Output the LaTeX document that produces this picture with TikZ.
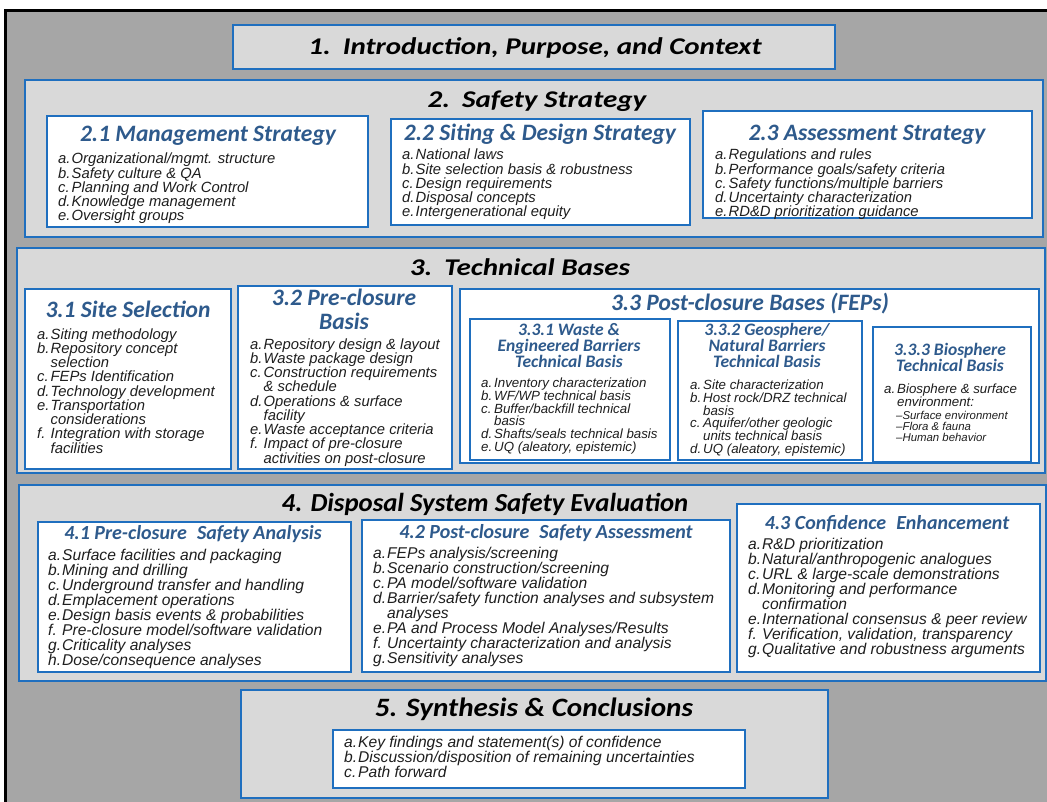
\documentclass[tikz,border=0pt]{standalone}
\usepackage{fontspec}
\setmainfont{Liberation Sans}
\newfontfamily\calib{Carlito}
\newfontfamily\calibw[FakeStretch=1.21]{Carlito}
\newfontfamily\calibf[FakeStretch=1.03]{Carlito}
\newfontfamily\calibm[FakeStretch=1.1]{Carlito}
\definecolor{outergray}{HTML}{A6A6A6}
\definecolor{secgray}{HTML}{D9D9D9}
\definecolor{bord}{HTML}{1F6FBF}
\definecolor{subblue}{HTML}{2E5A8C}
\definecolor{txt}{HTML}{1E1E1E}
\newlength\lw
\newcommand\itm[2]{\makebox[\lw][l]{#1}#2}
\newcommand\cnt[1]{\hspace*{\lw}#1}
\tikzset{
 secbox/.style={draw=bord, line width=2.6pt, fill=secgray},
 inbox/.style={draw=bord, line width=2.2pt, fill=white},
 sectitle/.style={inner sep=0pt, anchor=base, text=black, font=\calibw\bfseries\itshape\fontsize{24}{26}\selectfont},
 subtitle/.style={inner sep=0pt, anchor=base, align=center, text=subblue, font=\calib\bfseries\itshape\fontsize{23.5}{24}\selectfont},
 subsmall/.style={inner sep=0pt, anchor=base, align=center, text=subblue, font=\calib\bfseries\itshape\fontsize{17.5}{16}\selectfont},
 subfour/.style={inner sep=0pt, anchor=base, align=center, text=subblue, font=\calib\bfseries\itshape\fontsize{20}{22}\selectfont},
 listA/.style={inner sep=0pt, anchor=base west, align=left, text=txt, font=\itshape\fontsize{14.8}{14.25}\selectfont\setlength{\lw}{13.5pt}},
 listB/.style={inner sep=0pt, anchor=base west, align=left, text=txt, font=\itshape\fontsize{13.3}{12.8}\selectfont\setlength{\lw}{13pt}},
 listC/.style={inner sep=0pt, anchor=base west, align=left, text=txt, font=\itshape\fontsize{11.4}{11}\selectfont},
 listD/.style={inner sep=0pt, anchor=base west, align=left, text=txt, font=\itshape\fontsize{15.6}{15}\selectfont\setlength{\lw}{14pt}},
}
\begin{document}
\begin{tikzpicture}[x=1pt,y=-1pt]
\useasboundingbox (0,0) rectangle (1047,802);
% background
\fill[white] (0,0) rectangle (1047,802);
\fill[outergray] (5,10) rectangle (1047,802);
\draw[black, line width=2.8pt] (5.5,802) -- (5.5,10.5) -- (1047,10.5);

% ---- Section 1
\draw[secbox] (233,25) rectangle (835,69);
\node[sectitle] (t1) at (535,55) {1.\enspace Introduction, Purpose, and Context};

% ---- Section 2 (multi-line nodes are placed by the baseline of their last line)
\draw[secbox] (25,80) rectangle (1043,237);
\node[sectitle] (t2) at (537,108) {2.\enspace Safety Strategy};
\draw[inbox] (47,116) rectangle (368,227);
\draw[inbox] (391,119) rectangle (690,225);
\draw[inbox] (703,111) rectangle (1032,218);
\node[subtitle] (t21) at (208,141.5) {2.1 Management Strategy};
\node[subtitle] (t22) at (540,140.5) {2.2 Siting \& Design Strategy};
\node[subtitle] (t23) at (867,140.5) {2.3 Assessment Strategy};
\node[listA] (l21) at (58,221) {\itm{a.}{Organizational/mgmt. structure}\\\itm{b.}{Safety culture \& QA}\\\itm{c.}{Planning and Work Control}\\\itm{d.}{Knowledge management}\\\itm{e.}{Oversight groups}};
\node[listA] (l22) at (402,217) {\itm{a.}{National laws}\\\itm{b.}{Site selection basis \& robustness}\\\itm{c.}{Design requirements}\\\itm{d.}{Disposal concepts}\\\itm{e.}{Intergenerational equity}};
\node[listA] (l23) at (715,217) {\itm{a.}{Regulations and rules}\\\itm{b.}{Performance goals/safety criteria}\\\itm{c.}{Safety functions/multiple barriers}\\\itm{d.}{Uncertainty characterization}\\\itm{e.}{RD\&D prioritization guidance}};

% ---- Section 3
\draw[secbox] (17,248) rectangle (1045,473);
\node[sectitle] (t3) at (520,276) {3.\enspace Technical Bases};
\draw[inbox] (25,289) rectangle (231,469);
\draw[inbox] (238,286) rectangle (452,469);
\draw[inbox] (460,289) rectangle (1039,463);
\node[subtitle] (t31) at (128,317.5) {3.1 Site Selection};
\node[subtitle] (t32) at (344,329.5) {3.2 Pre-closure\\Basis};
\node[subtitle] (t33) at (750,310.5) {3.3 Post-closure Bases (FEPs)};
\node[listA] (l31) at (37,453) {\itm{a.}{Siting methodology}\\\itm{b.}{Repository concept}\\\cnt{selection}\\\itm{c.}{FEPs Identification}\\\itm{d.}{Technology development}\\\itm{e.}{Transportation}\\\cnt{considerations}\\\itm{f.}{Integration with storage}\\\cnt{facilities}};
\node[listA] (l32) at (250,463) {\itm{a.}{Repository design \& layout}\\\itm{b.}{Waste package design}\\\itm{c.}{Construction requirements}\\\cnt{\& schedule}\\\itm{d.}{Operations \& surface}\\\cnt{facility}\\\itm{e.}{Waste acceptance criteria}\\\itm{f.}{Impact of pre-closure}\\\cnt{activities on post-closure}};
\draw[inbox] (470,319) rectangle (670,460);
\draw[inbox] (678,321) rectangle (862,460);
\draw[inbox] (873,327) rectangle (1031,462);
\node[subsmall] (t331) at (569,367.5) {3.3.1 Waste \&\\Engineered Barriers\\Technical Basis};
\node[subsmall] (t332) at (767,367.5) {3.3.2 Geosphere/\\Natural Barriers\\Technical Basis};
\node[subsmall] (t333) at (950,371.5) {3.3.3 Biosphere\\Technical Basis};
\node[listB] (l331) at (481,451.5) {\itm{a.}{Inventory characterization}\\\itm{b.}{WF/WP technical basis}\\\itm{c.}{Buffer/backfill technical}\\\cnt{basis}\\\itm{d.}{Shafts/seals technical basis}\\\itm{e.}{UQ (aleatory, epistemic)}};
\node[listB] (l332) at (690,453.5) {\itm{a.}{Site characterization}\\\itm{b.}{Host rock/DRZ technical}\\\cnt{basis}\\\itm{c.}{Aquifer/other geologic}\\\cnt{units technical basis}\\\itm{d.}{UQ (aleatory, epistemic)}};
\node[listB] (l333) at (884,406.3) {\itm{a.}{Biosphere \& surface}\\\cnt{environment:}};
\node[listC] (l333s) at (896,441) {–Surface environment\\–Flora \& fauna\\–Human behavior};

% ---- Section 4
\draw[secbox] (19,485) rectangle (1046,681);
\node[sectitle, font=\calibf\bfseries\itshape\fontsize{26}{28}\selectfont] (t4) at (485,511.5) {4. Disposal System Safety Evaluation};
\draw[inbox] (38,522) rectangle (351,672);
\draw[inbox] (362,520) rectangle (730,672);
\draw[inbox] (737,504) rectangle (1040,672);
\node[subfour] (t41) at (193,539.5) {4.1 Pre-closure\enspace Safety Analysis};
\node[subfour] (t42) at (546,538.5) {4.2 Post-closure\enspace Safety Assessment};
\node[subfour] (t43) at (887,529.5) {4.3 Confidence\enspace Enhancement};
\node[listD] (l41) at (48,665.5) {\itm{a.}{Surface facilities and packaging}\\\itm{b.}{Mining and drilling}\\\itm{c.}{Underground transfer and handling}\\\itm{d.}{Emplacement operations}\\\itm{e.}{Design basis events \& probabilities}\\\itm{f.}{Pre-closure model/software validation}\\\itm{g.}{Criticality analyses}\\\itm{h.}{Dose/consequence analyses}};
\node[listD] (l42) at (373,663.5) {\itm{a.}{FEPs analysis/screening}\\\itm{b.}{Scenario construction/screening}\\\itm{c.}{PA model/software validation}\\\itm{d.}{Barrier/safety function analyses and subsystem}\\\cnt{analyses}\\\itm{e.}{PA and Process Model Analyses/Results}\\\itm{f.}{Uncertainty characterization and analysis}\\\itm{g.}{Sensitivity analyses}};
\node[listD] (l43) at (748,654.5) {\itm{a.}{R\&D prioritization}\\\itm{b.}{Natural/anthropogenic analogues}\\\itm{c.}{URL \& large-scale demonstrations}\\\itm{d.}{Monitoring and performance}\\\cnt{confirmation}\\\itm{e.}{International consensus \& peer review}\\\itm{f.}{Verification, validation, transparency}\\\itm{g.}{Qualitative and robustness arguments}};

% ---- Section 5
\draw[secbox] (241,690) rectangle (828,798);
\node[sectitle, font=\calibm\bfseries\itshape\fontsize{26.5}{28}\selectfont] (t5) at (534,716.5) {5. Synthesis \& Conclusions};
\draw[inbox] (333,730) rectangle (745,788);
\node[listD] (l5) at (344,777.5) {\itm{a.}{Key findings and statement(s) of confidence}\\\itm{b.}{Discussion/disposition of remaining uncertainties}\\\itm{c.}{Path forward}};
\end{tikzpicture}
\end{document}
